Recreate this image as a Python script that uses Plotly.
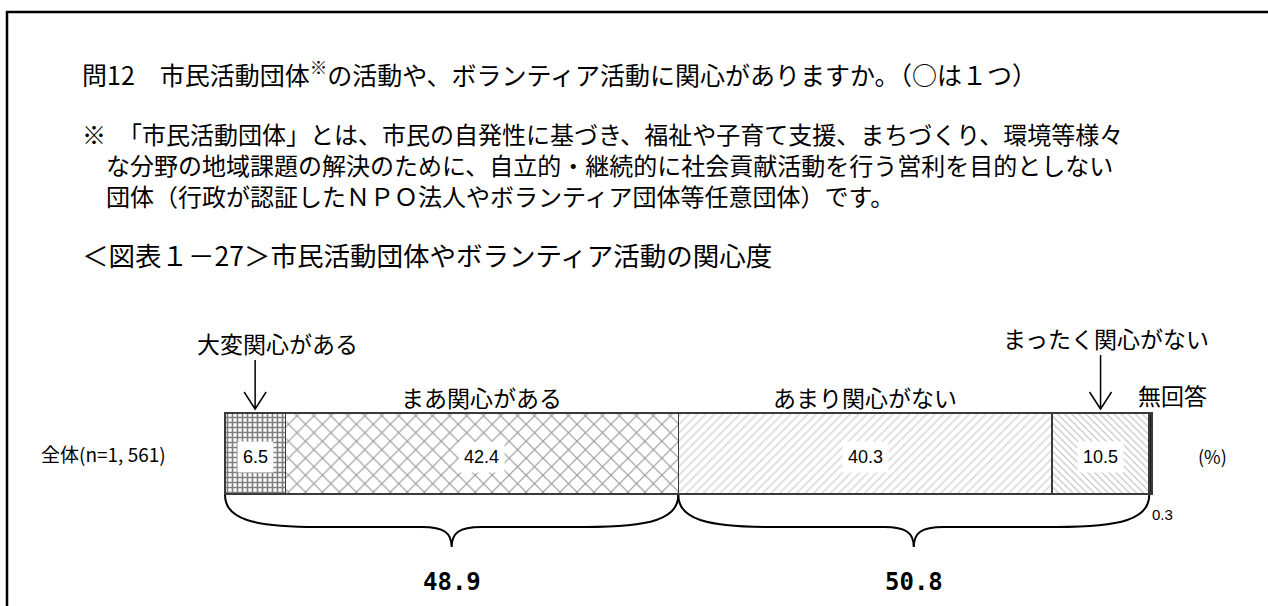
import plotly.graph_objects as go

# ---- data ----
categories = ["大変関心がある", "まあ関心がある", "あまり関心がない", "まったく関心がない", "無回答"]
values = [6.5, 42.4, 40.3, 10.5, 0.3]
row_label = "全体(n=1, 561)"
groups = [(0, 2), (2, 4)]  # brace groups: 関心がある / 関心がない
question = "問12　市民活動団体<sup>※</sup>の活動や、ボランティア活動に関心がありますか。（○は１つ）"
note_lines = [
    "※　「市民活動団体」とは、市民の自発性に基づき、福祉や子育て支援、まちづくり、環境等様々",
    "　な分野の地域課題の解決のために、自立的・継続的に社会貢献活動を行う営利を目的としない",
    "　団体（行政が認証したＮＰＯ法人やボランティア団体等任意団体）です。",
]
chart_title = "＜図表１－27＞市民活動団体やボランティア活動の関心度"

# ---- layout constants ----
W, H = 1268, 606
X0PX, PXPCT = 225, 9.27
BAR_Y, BAR_W = 453.5, 81
JP = "Noto Sans CJK JP"
MONO = "DejaVu Sans Mono, Noto Sans CJK JP"
ARIAL = "Liberation Sans, Arial"

patterns = [
    dict(shape="+", fgcolor="#000000", bgcolor="#ffffff", size=5, solidity=0.55),
    dict(shape="x", fgcolor="#303030", bgcolor="#ffffff", size=12, solidity=0.18),
    dict(shape="/", fgcolor="#b0b0b0", bgcolor="#ffffff", size=6, solidity=0.25),
    dict(shape="\\", fgcolor="#707070", bgcolor="#ffffff", size=5, solidity=0.2),
    dict(shape="", fgcolor="#222222", bgcolor="#222222", size=6, solidity=1),
]

fig = go.Figure()
starts = []
acc = 0.0
for i, (c, v) in enumerate(zip(categories, values)):
    starts.append(acc)
    fig.add_trace(go.Bar(
        orientation="h", x=[v], y=[BAR_Y], base=[acc], width=BAR_W, name=c,
        marker=dict(color="#222222" if i == 4 else "#ffffff",
                    pattern=patterns[i],
                    line=dict(color="#3a3a3a", width=1.5)),
        showlegend=False, hoverinfo="skip",
    ))
    acc += v
centers = [s + v / 2 for s, v in zip(starts, values)]

annotations = []
shapes = []

def paper_x(px):
    return px / W

# frame
shapes.append(dict(type="rect", xref="paper", yref="y", x0=paper_x(7), x1=1.1,
                   y0=12, y1=H + 50, line=dict(color="black", width=2.5)))

# header texts
annotations.append(dict(text=question, xref="paper", yref="y", x=paper_x(80), y=73,
                        xanchor="left", yanchor="middle", showarrow=False, align="left",
                        font=dict(family=JP, size=25, color="black")))
annotations.append(dict(text="<br>".join(note_lines), xref="paper", yref="y", x=paper_x(80), y=164,
                        xanchor="left", yanchor="middle", showarrow=False, align="left",
                        font=dict(family=JP, size=24, color="black")))
annotations.append(dict(text=chart_title, xref="paper", yref="y", x=paper_x(80), y=254,
                        xanchor="left", yanchor="middle", showarrow=False, align="left",
                        font=dict(family=JP, size=26.5, color="black")))

# row label
annotations.append(dict(text=row_label, xref="paper", yref="y", x=paper_x(168), y=BAR_Y,
                        xanchor="right", yanchor="middle", showarrow=False,
                        font=dict(family=JP, size=19, color="black")))
annotations.append(dict(text="(%)", xref="paper", yref="y", x=paper_x(1212), y=BAR_Y + 2,
                        xanchor="center", yanchor="middle", showarrow=False,
                        font=dict(family=JP, size=18, color="black")))

# value labels
for i, (v, cx) in enumerate(zip(values, centers)):
    if i < 4:
        annotations.append(dict(text=f"{v:.1f}", xref="x", yref="y", x=cx, y=BAR_Y + 3,
                                xanchor="center", yanchor="middle", showarrow=False,
                                bgcolor="white", borderpad=5,
                                font=dict(family=ARIAL, size=18, color="black")))
    else:
        annotations.append(dict(text=f"{v:.1f}", xref="x", yref="y", x=cx, y=514,
                                xanchor="center", yanchor="middle", showarrow=False,
                                xshift=12, font=dict(family=ARIAL, size=15, color="black")))

# category labels
cat_pos = [(343, 22, True), (397, 0, False), (397, 0, False), (338, 5, True), (395, 22, False)]
for i, (c, cx) in enumerate(zip(categories, centers)):
    yy, xs, arrow = cat_pos[i]
    annotations.append(dict(text=c, xref="x", yref="y", x=cx, y=yy, xshift=xs,
                            xanchor="center", yanchor="middle", showarrow=False,
                            font=dict(family=JP, size=23, color="black")))
    if arrow:
        ytop = yy + 17
        ytip = 409
        dx = 11 / PXPCT
        shapes.append(dict(type="path", xref="x", yref="y",
                           path=f"M {cx},{ytop} L {cx},{ytip} M {cx-dx},{ytip-17} L {cx},{ytip} L {cx+dx},{ytip-17}",
                           line=dict(color="black", width=1.5)))

# braces
yt, yh, ytip = 495, 527, 547
for (a, b) in groups:
    x0 = starts[a]
    x1 = starts[b - 1] + values[b - 1]
    xm = (x0 + x1) / 2
    d1 = 10.0
    d2 = 3.2
    path = (f"M {x0},{yt} C {x0},{yh-8} {x0+3},{yh} {x0+d1},{yh} "
            f"L {xm-d2},{yh} C {xm-0.8},{yh} {xm},{yh+6} {xm},{ytip} "
            f"C {xm},{yh+6} {xm+0.8},{yh} {xm+d2},{yh} "
            f"L {x1-d1},{yh} C {x1-3},{yh} {x1},{yh-8} {x1},{yt}")
    shapes.append(dict(type="path", xref="x", yref="y", path=path,
                       line=dict(color="black", width=2)))
    s = sum(values[a:b])
    annotations.append(dict(text=f"<b>{s:.1f}</b>", xref="x", yref="y", x=xm, y=582,
                            xanchor="center", yanchor="middle", showarrow=False,
                            font=dict(family=MONO, size=24, color="black")))

xr = [-X0PX / PXPCT, (W - X0PX) / PXPCT]
fig.update_layout(
    width=W, height=H, margin=dict(l=0, r=0, t=0, b=0),
    paper_bgcolor="white", plot_bgcolor="white", barmode="stack",
    xaxis=dict(range=xr, domain=[0, 1], visible=False, fixedrange=True),
    yaxis=dict(range=[H, 0], domain=[0, 1], visible=False, fixedrange=True),
    annotations=annotations, shapes=shapes, showlegend=False,
)
fig.write_html("out.html", config={"displayModeBar": False},
               post_script="document.body.style.margin='0';")
